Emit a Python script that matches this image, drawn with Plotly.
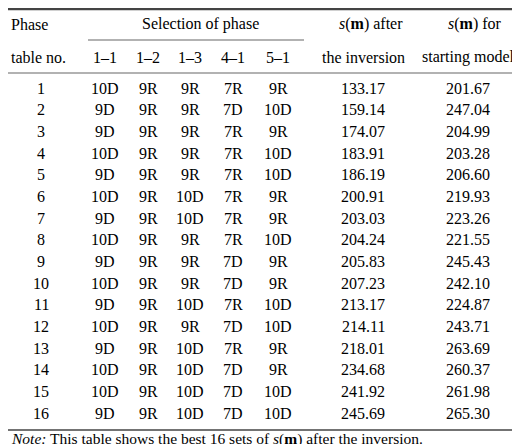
import plotly.graph_objects as go

phase_no = [str(i) for i in range(1, 17)]
sel_cols = ["1–1", "1–2", "1–3", "4–1", "5–1"]
c11 = ["10D","9D","9D","10D","9D","10D","9D","10D","9D","10D","9D","10D","9D","10D","10D","9D"]
c12 = ["9R"] * 16
c13 = ["9R","9R","9R","9R","9R","10D","10D","9R","9R","9R","10D","9R","10D","10D","10D","10D"]
c41 = ["7R","7D","7R","7R","7R","7R","7R","7R","7D","7D","7R","7D","7R","7D","7D","7D"]
c51 = ["9R","10D","9R","10D","10D","9R","9R","10D","9R","9R","10D","10D","9R","9R","10D","10D"]
s_after = ["133.17","159.14","174.07","183.91","186.19","200.91","203.03","204.24","205.83","207.23","213.17","214.11","218.01","234.68","241.92","245.69"]
s_start = ["201.67","247.04","204.99","203.28","206.60","219.93","223.26","221.55","245.43","242.10","224.87","243.71","263.69","260.37","261.98","265.30"]

F = "Liberation Serif"
fs = 16
fig = go.Figure()
ann = []
def t(x, y, s, xa="center", sz=fs):
    ann.append(dict(x=x, y=y, text=s, showarrow=False, xanchor=xa, yanchor="middle",
                    font=dict(family=F, size=sz, color="black"), xref="x", yref="y"))

sm = "<i>s</i>(<b>m</b>)"
t(1, 16, "Phase", "left")
t(1, 49, "table no.", "left")
t(192, 16, "Selection of phase")
t(397, 16, sm + " after", "right")
t(467, 16, sm + " for")
t(355, 49, "the inversion")
t(460, 49, "starting model")
colx = [97, 140, 182, 225, 270]
for x, s in zip(colx, sel_cols):
    t(x, 49, s)
y0, dy = 80, 21.67
cols = [(33, phase_no)] + list(zip(colx, [c11, c12, c13, c41, c51])) + [(355, s_after), (460, s_start)]
for i in range(16):
    y = y0 + i * dy
    for x, vals in cols:
        t(x, y, vals[i])
t(1, 431, "<i>Note:</i> This table shows the best 16 sets of " + sm + " after the inversion.", "left", 15.5)

shapes = [
    dict(type="line", x0=0, x1=520, y0=1, y1=1, line=dict(color="#444", width=2.5)),
    dict(type="line", x0=80, x1=296, y0=32, y1=32, line=dict(color="#666", width=1.2)),
    dict(type="line", x0=0, x1=520, y0=65, y1=65, line=dict(color="#666", width=1.2)),
    dict(type="line", x0=0, x1=520, y0=422, y1=422, line=dict(color="#444", width=1.5)),
]
fig.update_layout(width=520, height=444, margin=dict(l=0, r=0, t=0, b=0),
                  plot_bgcolor="white", paper_bgcolor="white",
                  xaxis=dict(range=[0, 520], visible=False, fixedrange=True),
                  yaxis=dict(range=[444, 0], visible=False, fixedrange=True),
                  annotations=ann, shapes=shapes, showlegend=False)
fig.write_html("out.html")
